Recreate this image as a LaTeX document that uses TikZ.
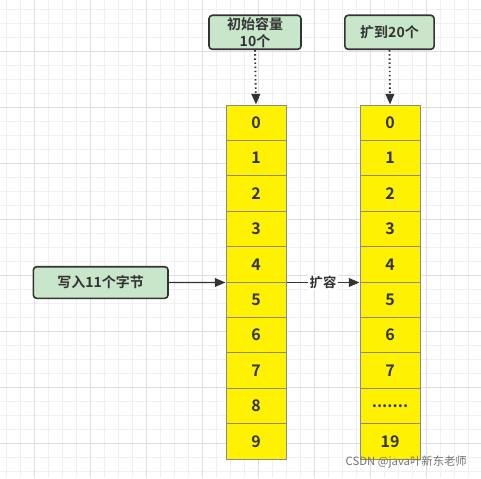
\documentclass[tikz,border=0pt]{standalone}
\usepackage{fontspec}
\setmainfont{Noto Sans CJK SC}
\newfontfamily\cjkb{Noto Sans CJK SC Bold}
\usetikzlibrary{arrows.meta}
\definecolor{txt}{HTML}{333333}
\definecolor{boxg}{HTML}{C8E6C9}
\definecolor{cellb}{HTML}{8A8A8A}
\definecolor{gminor}{HTML}{F0F0F0}
\definecolor{gmajor}{HTML}{DEDEDE}
\newcommand\sevdots{.......}
\tikzset{
  lbl/.style={draw=txt, line width=1.2pt, fill=boxg, rounded corners=2.5pt, text=txt, font=\cjkb\fontsize{10.5pt}{12.5pt}\selectfont, align=center, inner sep=0pt},
  cell/.style={draw=cellb, line width=0.75pt, fill=yellow, minimum width=45pt, minimum height=26.55pt, inner sep=0pt, text=txt, font=\cjkb\fontsize{12pt}{13pt}\selectfont},
  conn/.style={draw=txt, line width=1.1pt, -{Triangle[length=8pt,width=6.5pt]}},
}
\begin{document}
\begin{tikzpicture}[x=0.75pt,y=-0.75pt]
\useasboundingbox (0,0) rectangle (481,478);
\fill[white] (0,0) rectangle (481,478);
% grid
\foreach \i in {0,...,34} {\draw[gminor, line width=0.75pt] ({6.7+14*\i},0) -- ({6.7+14*\i},478);}
\foreach \i in {0,...,33} {\draw[gminor, line width=0.75pt] (0,{9.3+14*\i}) -- (481,{9.3+14*\i});}
\foreach \i in {0,...,8} {\draw[gmajor, line width=0.75pt] ({34.7+56*\i},0) -- ({34.7+56*\i},478);}
\foreach \i in {0,...,7} {\draw[gmajor, line width=0.75pt] (0,{51.3+56*\i}) -- (481,{51.3+56*\i});}
% columns
\foreach \t [count=\k from 0] in {0,1,2,3,4,5,6,7,8,9} {
  \node[cell] (a\k) at (256,{105+35.4*\k+17.7}) {\t};
}
\foreach \t [count=\k from 0] in {0,1,2,3,4,5,6,7,\sevdots,19} {
  \node[cell] (b\k) at (390,{105+35.4*\k+17.7}) {\t};
}
% boxes
\node[lbl, minimum width=69pt, minimum height=25.5pt] (init) at (255,32.3) {初始容量\\10个};
\node[lbl, minimum width=67pt, minimum height=25.5pt] (ext) at (389.5,32.3) {扩到20个};
\node[lbl, minimum width=101pt, minimum height=23.7pt] (write) at (100.7,282.5) {写入11个字节};
% connectors
\draw[conn, dotted, line width=1.4pt] (init.south) -- (a0.north);
\draw[conn, dotted, line width=1.4pt] (ext.south) -- (b0.north);
\draw[conn] (write.east) -- (a4.south west);
\draw[conn] (a4.south east) -- node[fill=white, inner sep=1pt, text=txt, font=\cjkb\fontsize{10pt}{11pt}\selectfont] (kr) {扩容} (b4.south west);
% watermark
\node[anchor=south east, inner sep=0pt, text=black!55, font=\fontsize{8.5pt}{10pt}\selectfont] (wm) at (467,469) {CSDN @java叶新东老师};
\end{tikzpicture}
\end{document}
